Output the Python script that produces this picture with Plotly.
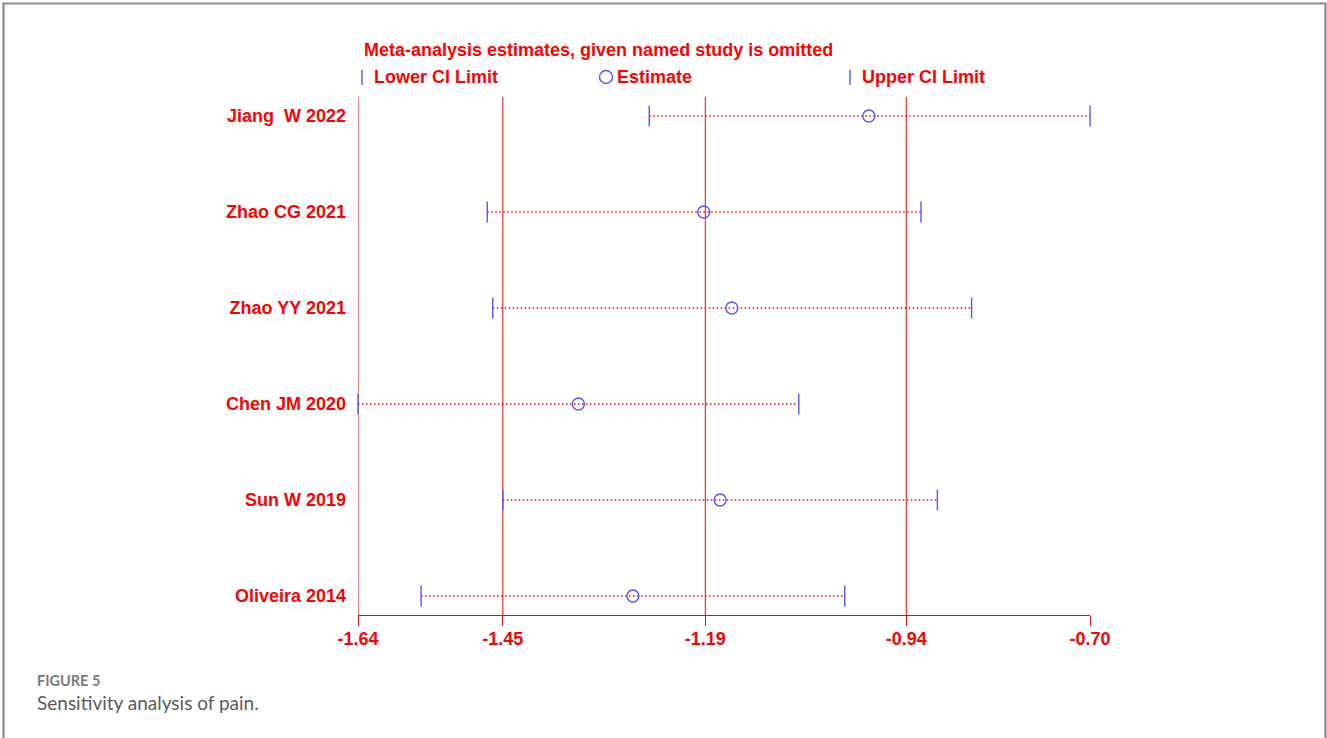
import plotly.graph_objects as go

# Leave-one-out sensitivity analysis: pooled estimate with one study omitted
studies = ["Jiang\u00a0 W 2022", "Zhao CG 2021", "Zhao YY 2021",
           "Chen JM 2020", "Sun W 2019", "Oliveira 2014"]
estimate = [-0.984, -1.196, -1.160, -1.357, -1.175, -1.287]
lower_ci = [-1.266, -1.474, -1.467, -1.640, -1.454, -1.559]
upper_ci = [-0.700, -0.917, -0.852, -1.074, -0.896, -1.015]

# Axis limits and overall pooled estimate / CI reference lines
x_min, x_max = -1.64, -0.70
overall = [-1.454, -1.194, -0.936]
tick_vals = [x_min] + overall + [x_max]
tick_text = [f"<b>{v:.2f}</b>" for v in tick_vals]

RED = "#ff0000"
BLUE = "rgb(85,85,255)"
FONT = "Liberation Sans, Arial, Helvetica, sans-serif"

W, H = 1327, 738
ML, MR, MT, MB = 358, 237, 97, 123


def xp(px):
    return (px - ML) / (W - ML - MR)


def yp(py):
    return (H - MB - py) / (H - MT - MB)


rows = list(range(1, len(studies) + 1))

# dotted CI segments
seg_x, seg_y = [], []
for r, lo, hi in zip(rows, lower_ci, upper_ci):
    seg_x += [lo, hi, None]
    seg_y += [r, r, None]

fig = go.Figure()
fig.add_trace(go.Scatter(
    x=seg_x, y=seg_y, mode="lines",
    line=dict(color=RED, width=1.6, dash="1.5px,2.5px"),
    hoverinfo="skip", showlegend=False, cliponaxis=False))
fig.add_trace(go.Scatter(
    x=lower_ci, y=rows, mode="markers", name="Lower CI Limit",
    marker=dict(symbol="line-ns", size=15, line=dict(color=BLUE, width=1.4)),
    showlegend=False, cliponaxis=False))
fig.add_trace(go.Scatter(
    x=upper_ci, y=rows, mode="markers", name="Upper CI Limit",
    marker=dict(symbol="line-ns", size=15, line=dict(color=BLUE, width=1.4)),
    showlegend=False, cliponaxis=False))
fig.add_trace(go.Scatter(
    x=estimate, y=rows, mode="markers", name="Estimate",
    marker=dict(symbol="circle-open", size=12, color=BLUE,
                line=dict(color=BLUE, width=1.4)),
    showlegend=False, cliponaxis=False))

shapes = []
# vertical reference lines at the axis minimum and the overall estimate / CI
for v in [x_min] + overall:
    shapes.append(dict(type="line", xref="x", yref="y domain",
                       x0=v, x1=v, y0=0, y1=1, layer="below",
                       line=dict(color=RED, width=1)))

# legend key symbols
for kx in (362, 850):
    shapes.append(dict(type="line", xref="paper", yref="paper",
                       x0=xp(kx), x1=xp(kx), y0=yp(85), y1=yp(70),
                       line=dict(color=BLUE, width=1.4)))
shapes.append(dict(type="circle", xref="paper", yref="paper",
                   xsizemode="pixel", ysizemode="pixel",
                   xanchor=xp(606), yanchor=yp(77),
                   x0=-6.5, x1=6.5, y0=-6.5, y1=6.5,
                   line=dict(color=BLUE, width=1.4)))

# figure frame
shapes.append(dict(type="path", xref="paper", yref="paper",
                   path=(f"M {xp(3.5)} {yp(760)} L {xp(3.5)} {yp(3.5)} "
                         f"L {xp(1325.5)} {yp(3.5)} L {xp(1325.5)} {yp(760)}"),
                   line=dict(color="#8a8a8a", width=2.2)))

annotations = [
    dict(text="<b>Meta-analysis estimates, given named study is omitted</b>",
         x=xp(362), y=yp(50), xanchor="left", yanchor="middle",
         font=dict(family=FONT, size=18, color=RED)),
    dict(text="<b>Lower CI Limit</b>", x=xp(372), y=yp(77),
         xanchor="left", yanchor="middle",
         font=dict(family=FONT, size=18, color=RED)),
    dict(text="<b>Estimate</b>", x=xp(615), y=yp(77),
         xanchor="left", yanchor="middle",
         font=dict(family=FONT, size=18, color=RED)),
    dict(text="<b>Upper CI Limit</b>", x=xp(860), y=yp(77),
         xanchor="left", yanchor="middle",
         font=dict(family=FONT, size=18, color=RED)),
    dict(text="<b>FIGURE 5</b>", x=xp(35), y=yp(680),
         xanchor="left", yanchor="middle",
         font=dict(family="Lato, Open Sans, sans-serif", size=14.5, color="#7a7a7a")),
    dict(text="Sensitivity analysis of pain.", x=xp(35), y=yp(702),
         xanchor="left", yanchor="middle",
         font=dict(family="Lato, Open Sans, sans-serif", size=19, color="#5a5a5a")),
]
for a in annotations:
    a.update(xref="paper", yref="paper", showarrow=False)

fig.update_layout(
    width=W, height=H,
    margin=dict(l=ML, r=MR, t=MT, b=MB, pad=0),
    paper_bgcolor="white", plot_bgcolor="white",
    showlegend=False,
    shapes=shapes, annotations=annotations,
    xaxis=dict(range=[x_min, x_max], tickvals=tick_vals, ticktext=tick_text,
               showgrid=False, zeroline=False, showline=True,
               linecolor=RED, linewidth=1, ticks="outside", ticklen=10,
               tickcolor=RED, tickwidth=1, ticklabelstandoff=-3,
               tickfont=dict(family=FONT, size=18, color=RED)),
    yaxis=dict(range=[6.198, 0.802], tickvals=rows,
               ticktext=[f"<b>{s}</b>" for s in studies],
               showgrid=False, zeroline=False, showline=False, ticks="",
               ticklabelstandoff=11,
               tickfont=dict(family=FONT, size=18, color=RED)),
)

fig.write_html("out.html")
